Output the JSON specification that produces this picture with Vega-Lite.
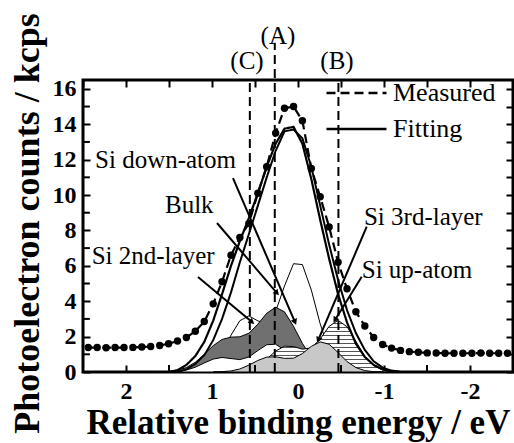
{
 "$schema": "https://vega.github.io/schema/vega-lite/v6.json",
 "width": 430,
 "height": 292,
 "autosize": {"type": "none"},
 "padding": {"left": 83, "top": 80, "right": 1, "bottom": 71},
 "background": "white",
 "config": {
  "view": {"stroke": "black", "strokeWidth": 3},
  "font": "Liberation Serif",
  "axis": {"domain": false, "grid": false, "tickColor": "black", "tickWidth": 2, "tickSize": -7,
   "labelFont": "Liberation Serif", "labelFontWeight": "bold", "labelFontSize": 24, "labelColor": "black",
   "titleFont": "Liberation Serif", "titleFontWeight": "bold", "titleColor": "black", "labelFlush": false, "labelOverlap": false}
 },
 "datasets": {
  "curves": [
   {"series": "Measured", "x": 2.439, "y": 1.38}, {"series": "Measured", "x": 2.335, "y": 1.38}, {"series": "Measured", "x": 2.231, "y": 1.37},
   {"series": "Measured", "x": 2.127, "y": 1.38}, {"series": "Measured", "x": 2.023, "y": 1.38}, {"series": "Measured", "x": 1.92, "y": 1.39},
   {"series": "Measured", "x": 1.816, "y": 1.41}, {"series": "Measured", "x": 1.713, "y": 1.44}, {"series": "Measured", "x": 1.608, "y": 1.5},
   {"series": "Measured", "x": 1.505, "y": 1.6}, {"series": "Measured", "x": 1.401, "y": 1.75}, {"series": "Measured", "x": 1.298, "y": 1.95},
   {"series": "Measured", "x": 1.194, "y": 2.3}, {"series": "Measured", "x": 1.09, "y": 2.85}, {"series": "Measured", "x": 0.986, "y": 3.85},
   {"series": "Measured", "x": 0.883, "y": 5.1}, {"series": "Measured", "x": 0.779, "y": 6.6}, {"series": "Measured", "x": 0.676, "y": 7.6},
   {"series": "Measured", "x": 0.571, "y": 8.4}, {"series": "Measured", "x": 0.467, "y": 10.1}, {"series": "Measured", "x": 0.364, "y": 11.6},
   {"series": "Measured", "x": 0.26, "y": 13.5}, {"series": "Measured", "x": 0.157, "y": 14.9}, {"series": "Measured", "x": 0.052, "y": 15.0},
   {"series": "Measured", "x": -0.051, "y": 14.2}, {"series": "Measured", "x": -0.155, "y": 11.5}, {"series": "Measured", "x": -0.258, "y": 9.9},
   {"series": "Measured", "x": -0.362, "y": 8.2}, {"series": "Measured", "x": -0.466, "y": 6.2}, {"series": "Measured", "x": -0.57, "y": 4.7},
   {"series": "Measured", "x": -0.673, "y": 3.4}, {"series": "Measured", "x": -0.777, "y": 2.6}, {"series": "Measured", "x": -0.88, "y": 1.95},
   {"series": "Measured", "x": -0.985, "y": 1.55}, {"series": "Measured", "x": -1.088, "y": 1.35}, {"series": "Measured", "x": -1.192, "y": 1.22},
   {"series": "Measured", "x": -1.295, "y": 1.15}, {"series": "Measured", "x": -1.399, "y": 1.12}, {"series": "Measured", "x": -1.503, "y": 1.08},
   {"series": "Measured", "x": -1.607, "y": 1.07}, {"series": "Measured", "x": -1.71, "y": 1.06}, {"series": "Measured", "x": -1.814, "y": 1.06},
   {"series": "Measured", "x": -1.917, "y": 1.06}, {"series": "Measured", "x": -2.022, "y": 1.06}, {"series": "Measured", "x": -2.126, "y": 1.07},
   {"series": "Measured", "x": -2.229, "y": 1.06}, {"series": "Measured", "x": -2.333, "y": 1.06}, {"series": "Measured", "x": -2.436, "y": 1.06},
   {"series": "Fitting", "x": 1.505, "y": 0.0}, {"series": "Fitting", "x": 1.401, "y": 0.1}, {"series": "Fitting", "x": 1.298, "y": 0.4},
   {"series": "Fitting", "x": 1.194, "y": 0.9}, {"series": "Fitting", "x": 1.09, "y": 1.7}, {"series": "Fitting", "x": 0.986, "y": 2.9},
   {"series": "Fitting", "x": 0.883, "y": 4.4}, {"series": "Fitting", "x": 0.779, "y": 6.0}, {"series": "Fitting", "x": 0.676, "y": 7.4},
   {"series": "Fitting", "x": 0.571, "y": 8.7}, {"series": "Fitting", "x": 0.467, "y": 10.1}, {"series": "Fitting", "x": 0.364, "y": 11.6},
   {"series": "Fitting", "x": 0.26, "y": 12.9}, {"series": "Fitting", "x": 0.157, "y": 13.75}, {"series": "Fitting", "x": 0.052, "y": 13.85},
   {"series": "Fitting", "x": -0.051, "y": 12.9}, {"series": "Fitting", "x": -0.155, "y": 10.9}, {"series": "Fitting", "x": -0.258, "y": 8.6},
   {"series": "Fitting", "x": -0.362, "y": 6.4}, {"series": "Fitting", "x": -0.466, "y": 4.4}, {"series": "Fitting", "x": -0.57, "y": 2.8},
   {"series": "Fitting", "x": -0.673, "y": 1.6}, {"series": "Fitting", "x": -0.777, "y": 0.85}, {"series": "Fitting", "x": -0.88, "y": 0.4},
   {"series": "Fitting", "x": -0.985, "y": 0.15}, {"series": "Fitting", "x": -1.088, "y": 0.05}, {"series": "Fitting", "x": -1.192, "y": 0.0},
   {"series": "Subtracted", "x": 1.401, "y": 0.0}, {"series": "Subtracted", "x": 1.298, "y": 0.15}, {"series": "Subtracted", "x": 1.194, "y": 0.45},
   {"series": "Subtracted", "x": 1.09, "y": 0.95}, {"series": "Subtracted", "x": 0.986, "y": 1.8}, {"series": "Subtracted", "x": 0.883, "y": 3.0},
   {"series": "Subtracted", "x": 0.779, "y": 4.5}, {"series": "Subtracted", "x": 0.676, "y": 6.2}, {"series": "Subtracted", "x": 0.571, "y": 7.8},
   {"series": "Subtracted", "x": 0.467, "y": 9.4}, {"series": "Subtracted", "x": 0.364, "y": 11.0}, {"series": "Subtracted", "x": 0.26, "y": 12.5},
   {"series": "Subtracted", "x": 0.157, "y": 13.6}, {"series": "Subtracted", "x": 0.052, "y": 13.7}, {"series": "Subtracted", "x": -0.051, "y": 13.2},
   {"series": "Subtracted", "x": -0.155, "y": 11.6}, {"series": "Subtracted", "x": -0.258, "y": 9.4}, {"series": "Subtracted", "x": -0.362, "y": 7.2},
   {"series": "Subtracted", "x": -0.466, "y": 5.2}, {"series": "Subtracted", "x": -0.57, "y": 3.5}, {"series": "Subtracted", "x": -0.673, "y": 2.2},
   {"series": "Subtracted", "x": -0.777, "y": 1.25}, {"series": "Subtracted", "x": -0.88, "y": 0.6}, {"series": "Subtracted", "x": -0.985, "y": 0.25},
   {"series": "Subtracted", "x": -1.088, "y": 0.08}, {"series": "Subtracted", "x": -1.192, "y": 0.0}
  ],
  "comp": [
   {"comp": "Bulk", "x": 1.298, "y": 0.0}, {"comp": "Bulk", "x": 1.194, "y": 0.04}, {"comp": "Bulk", "x": 1.09, "y": 0.15},
   {"comp": "Bulk", "x": 0.986, "y": 0.48}, {"comp": "Bulk", "x": 0.883, "y": 1.14}, {"comp": "Bulk", "x": 0.779, "y": 2.08},
   {"comp": "Bulk", "x": 0.676, "y": 2.9}, {"comp": "Bulk", "x": 0.571, "y": 3.17}, {"comp": "Bulk", "x": 0.467, "y": 2.89},
   {"comp": "Bulk", "x": 0.364, "y": 2.74}, {"comp": "Bulk", "x": 0.26, "y": 3.42}, {"comp": "Bulk", "x": 0.157, "y": 4.86},
   {"comp": "Bulk", "x": 0.052, "y": 6.12}, {"comp": "Bulk", "x": -0.051, "y": 6.07}, {"comp": "Bulk", "x": -0.155, "y": 4.63},
   {"comp": "Bulk", "x": -0.258, "y": 2.72}, {"comp": "Bulk", "x": -0.362, "y": 1.22}, {"comp": "Bulk", "x": -0.466, "y": 0.41},
   {"comp": "Bulk", "x": -0.57, "y": 0.11}, {"comp": "Bulk", "x": -0.673, "y": 0.02}, {"comp": "Bulk", "x": -0.777, "y": 0.0},
   {"comp": "Si down-atom", "x": 1.713, "y": 0.0}, {"comp": "Si down-atom", "x": 1.608, "y": 0.01}, {"comp": "Si down-atom", "x": 1.505, "y": 0.03},
   {"comp": "Si down-atom", "x": 1.401, "y": 0.09}, {"comp": "Si down-atom", "x": 1.298, "y": 0.25}, {"comp": "Si down-atom", "x": 1.194, "y": 0.55},
   {"comp": "Si down-atom", "x": 1.09, "y": 1.0}, {"comp": "Si down-atom", "x": 0.986, "y": 1.49}, {"comp": "Si down-atom", "x": 0.883, "y": 1.84},
   {"comp": "Si down-atom", "x": 0.779, "y": 1.97}, {"comp": "Si down-atom", "x": 0.676, "y": 1.99}, {"comp": "Si down-atom", "x": 0.571, "y": 2.19},
   {"comp": "Si down-atom", "x": 0.467, "y": 2.7}, {"comp": "Si down-atom", "x": 0.364, "y": 3.32}, {"comp": "Si down-atom", "x": 0.26, "y": 3.66},
   {"comp": "Si down-atom", "x": 0.157, "y": 3.4}, {"comp": "Si down-atom", "x": 0.052, "y": 2.58}, {"comp": "Si down-atom", "x": -0.051, "y": 1.62},
   {"comp": "Si down-atom", "x": -0.155, "y": 0.82}, {"comp": "Si down-atom", "x": -0.258, "y": 0.35}, {"comp": "Si down-atom", "x": -0.362, "y": 0.12},
   {"comp": "Si down-atom", "x": -0.466, "y": 0.03}, {"comp": "Si down-atom", "x": -0.57, "y": 0.0},
   {"comp": "Si 2nd-layer", "x": 1.505, "y": 0.0}, {"comp": "Si 2nd-layer", "x": 1.401, "y": 0.04}, {"comp": "Si 2nd-layer", "x": 1.298, "y": 0.11},
   {"comp": "Si 2nd-layer", "x": 1.194, "y": 0.27}, {"comp": "Si 2nd-layer", "x": 1.09, "y": 0.51}, {"comp": "Si 2nd-layer", "x": 0.986, "y": 0.73},
   {"comp": "Si 2nd-layer", "x": 0.883, "y": 0.82}, {"comp": "Si 2nd-layer", "x": 0.779, "y": 0.76}, {"comp": "Si 2nd-layer", "x": 0.676, "y": 0.7},
   {"comp": "Si 2nd-layer", "x": 0.571, "y": 0.85}, {"comp": "Si 2nd-layer", "x": 0.467, "y": 1.21}, {"comp": "Si 2nd-layer", "x": 0.364, "y": 1.54},
   {"comp": "Si 2nd-layer", "x": 0.26, "y": 1.57}, {"comp": "Si 2nd-layer", "x": 0.157, "y": 1.24}, {"comp": "Si 2nd-layer", "x": 0.052, "y": 0.74},
   {"comp": "Si 2nd-layer", "x": -0.051, "y": 0.34}, {"comp": "Si 2nd-layer", "x": -0.155, "y": 0.12}, {"comp": "Si 2nd-layer", "x": -0.258, "y": 0.03},
   {"comp": "Si 2nd-layer", "x": -0.362, "y": 0.0},
   {"comp": "Si 3rd-layer", "x": 0.883, "y": 0.0}, {"comp": "Si 3rd-layer", "x": 0.779, "y": 0.01}, {"comp": "Si 3rd-layer", "x": 0.676, "y": 0.04},
   {"comp": "Si 3rd-layer", "x": 0.571, "y": 0.13}, {"comp": "Si 3rd-layer", "x": 0.467, "y": 0.35}, {"comp": "Si 3rd-layer", "x": 0.364, "y": 0.73},
   {"comp": "Si 3rd-layer", "x": 0.26, "y": 1.18}, {"comp": "Si 3rd-layer", "x": 0.157, "y": 1.46}, {"comp": "Si 3rd-layer", "x": 0.052, "y": 1.44},
   {"comp": "Si 3rd-layer", "x": -0.051, "y": 1.29}, {"comp": "Si 3rd-layer", "x": -0.155, "y": 1.36}, {"comp": "Si 3rd-layer", "x": -0.258, "y": 1.87},
   {"comp": "Si 3rd-layer", "x": -0.362, "y": 2.58}, {"comp": "Si 3rd-layer", "x": -0.466, "y": 2.92}, {"comp": "Si 3rd-layer", "x": -0.57, "y": 2.56},
   {"comp": "Si 3rd-layer", "x": -0.673, "y": 1.73}, {"comp": "Si 3rd-layer", "x": -0.777, "y": 0.89}, {"comp": "Si 3rd-layer", "x": -0.88, "y": 0.36},
   {"comp": "Si 3rd-layer", "x": -0.985, "y": 0.11}, {"comp": "Si 3rd-layer", "x": -1.088, "y": 0.02}, {"comp": "Si 3rd-layer", "x": -1.192, "y": 0.0},
   {"comp": "Si up-atom", "x": 0.986, "y": 0.0}, {"comp": "Si up-atom", "x": 0.883, "y": 0.02}, {"comp": "Si up-atom", "x": 0.779, "y": 0.06},
   {"comp": "Si up-atom", "x": 0.676, "y": 0.17}, {"comp": "Si up-atom", "x": 0.571, "y": 0.39}, {"comp": "Si up-atom", "x": 0.467, "y": 0.65},
   {"comp": "Si up-atom", "x": 0.364, "y": 0.84}, {"comp": "Si up-atom", "x": 0.26, "y": 0.86}, {"comp": "Si up-atom", "x": 0.157, "y": 0.77},
   {"comp": "Si up-atom", "x": 0.052, "y": 0.78}, {"comp": "Si up-atom", "x": -0.051, "y": 1.04}, {"comp": "Si up-atom", "x": -0.155, "y": 1.45},
   {"comp": "Si up-atom", "x": -0.258, "y": 1.7}, {"comp": "Si up-atom", "x": -0.362, "y": 1.57}, {"comp": "Si up-atom", "x": -0.466, "y": 1.1},
   {"comp": "Si up-atom", "x": -0.57, "y": 0.59}, {"comp": "Si up-atom", "x": -0.673, "y": 0.25}, {"comp": "Si up-atom", "x": -0.777, "y": 0.08},
   {"comp": "Si up-atom", "x": -0.88, "y": 0.02}, {"comp": "Si up-atom", "x": -0.985, "y": 0.0}
  ],
  "arrows": [
   {"name": "Si down-atom", "x": 0.756, "y": 10.96, "x2": 0.035, "y2": 2.82},
   {"name": "Bulk", "x": 0.942, "y": 8.42, "x2": 0.244, "y2": 4.46},
   {"name": "Si 2nd-layer", "x": 1.163, "y": 5.37, "x2": 0.535, "y2": 2.82},
   {"name": "Si 3rd-layer", "x": -0.799, "y": 8.21, "x2": -0.236, "y2": 1.81},
   {"name": "Si up-atom", "x": -0.741, "y": 5.38, "x2": -0.43, "y2": 2.94}
  ],
  "notes": [
   {"text": "Si down-atom", "x": 2.36, "y": 12.0},
   {"text": "Bulk", "x": 1.547, "y": 9.43},
   {"text": "Si 2nd-layer", "x": 2.399, "y": 6.55},
   {"text": "Si 3rd-layer", "x": -0.767, "y": 8.76},
   {"text": "Si up-atom", "x": -0.741, "y": 5.76}
  ],
  "vlines": [
   {"label": "(C)", "x": 0.56, "y": 0, "ytop": 16.5},
   {"label": "(A)", "x": 0.27, "y": 0, "ytop": 18.6},
   {"label": "(B)", "x": -0.47, "y": 0, "ytop": 16.5}
  ],
  "vlabels": [
   {"text": "(C)", "x": 0.593, "y": 17.6},
   {"text": "(A)", "x": 0.233, "y": 19.0},
   {"text": "(B)", "x": -0.453, "y": 17.6}
  ],
  "minorY": [{"v": 1}, {"v": 3}, {"v": 5}, {"v": 7}, {"v": 9}, {"v": 11}, {"v": 13}, {"v": 15}],
  "minorX": [{"v": 1.5}, {"v": 0.5}, {"v": -0.5}, {"v": -1.5}]
 },
 "layer": [
  {
   "layer": [
    {
     "data": {"name": "comp"},
     "transform": [{"filter": "datum.comp === 'Bulk'"}],
     "mark": {"type": "area", "fill": "white", "stroke": "black", "strokeWidth": 1},
     "encoding": {
      "x": {"field": "x", "type": "quantitative", "scale": {"domain": [-2.5, 2.5], "reverse": true, "nice": false, "zero": false},
       "axis": {"title": "Relative binding energy / eV", "values": [2, 1, 0, -1, -2], "tickCount": 40,
        "labelExpr": "datum.value < 0 ? '-' + (-datum.value) : '' + datum.value",
        "labelPadding": 14, "titleFontSize": 35, "titleBaseline": "alphabetic", "titleY": 61}},
      "y": {"field": "y", "type": "quantitative", "scale": {"domain": [0, 16.5], "nice": false, "zero": true},
       "axis": {"title": "Photoelectron counts / kcps", "values": [0, 2, 4, 6, 8, 10, 12, 14, 16], "tickCount": 40, "format": "d",
        "labelPadding": 14,
        "titleFontSize": 36, "titleAngle": 270, "titleBaseline": "alphabetic", "titleX": -45, "titleY": 143}}
     }
    },
    {
     "data": {"name": "comp"},
     "transform": [{"filter": "datum.comp === 'Si down-atom'"}],
     "mark": {"type": "area", "fill": "#707070", "stroke": "black", "strokeWidth": 1},
     "encoding": {"x": {"field": "x", "type": "quantitative"}, "y": {"field": "y", "type": "quantitative"}}
    },
    {
     "data": {"name": "comp"},
     "transform": [{"filter": "datum.comp === 'Si 2nd-layer'"}],
     "mark": {"type": "area", "fill": "white", "stroke": "black", "strokeWidth": 1},
     "encoding": {"x": {"field": "x", "type": "quantitative"}, "y": {"field": "y", "type": "quantitative"}}
    },
    {
     "data": {"name": "comp"},
     "transform": [{"filter": "datum.comp === 'Si 3rd-layer'"}],
     "mark": {"type": "area", "stroke": "black", "strokeWidth": 1,
      "fill": {"gradient": "linear", "x1": 0, "y1": 0, "x2": 0, "y2": 1, "stops": [
       {"offset": 0, "color": "white"}, {"offset": 0.054, "color": "white"}, {"offset": 0.054, "color": "#555555"}, {"offset": 0.0769, "color": "#555555"},
       {"offset": 0.0769, "color": "white"}, {"offset": 0.1308, "color": "white"}, {"offset": 0.1308, "color": "#555555"}, {"offset": 0.1538, "color": "#555555"},
       {"offset": 0.1538, "color": "white"}, {"offset": 0.2077, "color": "white"}, {"offset": 0.2077, "color": "#555555"}, {"offset": 0.2308, "color": "#555555"},
       {"offset": 0.2308, "color": "white"}, {"offset": 0.2846, "color": "white"}, {"offset": 0.2846, "color": "#555555"}, {"offset": 0.3077, "color": "#555555"},
       {"offset": 0.3077, "color": "white"}, {"offset": 0.3615, "color": "white"}, {"offset": 0.3615, "color": "#555555"}, {"offset": 0.3846, "color": "#555555"},
       {"offset": 0.3846, "color": "white"}, {"offset": 0.4385, "color": "white"}, {"offset": 0.4385, "color": "#555555"}, {"offset": 0.4615, "color": "#555555"},
       {"offset": 0.4615, "color": "white"}, {"offset": 0.5154, "color": "white"}, {"offset": 0.5154, "color": "#555555"}, {"offset": 0.5385, "color": "#555555"},
       {"offset": 0.5385, "color": "white"}, {"offset": 0.5923, "color": "white"}, {"offset": 0.5923, "color": "#555555"}, {"offset": 0.6154, "color": "#555555"},
       {"offset": 0.6154, "color": "white"}, {"offset": 0.6692, "color": "white"}, {"offset": 0.6692, "color": "#555555"}, {"offset": 0.6923, "color": "#555555"},
       {"offset": 0.6923, "color": "white"}, {"offset": 0.7462, "color": "white"}, {"offset": 0.7462, "color": "#555555"}, {"offset": 0.7692, "color": "#555555"},
       {"offset": 0.7692, "color": "white"}, {"offset": 0.8231, "color": "white"}, {"offset": 0.8231, "color": "#555555"}, {"offset": 0.8462, "color": "#555555"},
       {"offset": 0.8462, "color": "white"}, {"offset": 0.9, "color": "white"}, {"offset": 0.9, "color": "#555555"}, {"offset": 0.9231, "color": "#555555"},
       {"offset": 0.9231, "color": "white"}, {"offset": 0.9769, "color": "white"}, {"offset": 0.9769, "color": "#555555"}, {"offset": 1, "color": "#555555"}
      ]}},
     "encoding": {"x": {"field": "x", "type": "quantitative"}, "y": {"field": "y", "type": "quantitative"}}
    },
    {
     "data": {"name": "comp"},
     "transform": [{"filter": "datum.comp === 'Si up-atom'"}],
     "mark": {"type": "area", "fill": "#c8c8c8", "stroke": "black", "strokeWidth": 1},
     "encoding": {"x": {"field": "x", "type": "quantitative"}, "y": {"field": "y", "type": "quantitative"}}
    },
    {
     "data": {"name": "curves"},
     "transform": [{"filter": "datum.series === 'Subtracted'"}],
     "mark": {"type": "line", "color": "black", "strokeWidth": 2},
     "encoding": {"x": {"field": "x", "type": "quantitative"}, "y": {"field": "y", "type": "quantitative"}}
    },
    {
     "data": {"name": "curves"},
     "transform": [{"filter": "datum.series !== 'Subtracted'"}],
     "mark": {"type": "line", "color": "black", "strokeWidth": 2.2},
     "encoding": {
      "x": {"field": "x", "type": "quantitative"},
      "y": {"field": "y", "type": "quantitative"},
      "strokeDash": {"field": "series", "type": "nominal",
       "scale": {"domain": ["Measured", "Fitting"], "range": [[9, 5], [1, 0]]},
       "legend": {"orient": "none", "legendX": 242, "legendY": -5, "title": null, "symbolType": "stroke",
        "symbolSize": 3600, "symbolStrokeWidth": 2.5, "symbolStrokeColor": "black", "labelFont": "Liberation Serif",
        "labelFontSize": 26, "labelColor": "black", "labelOffset": 5, "rowPadding": 0, "clipHeight": 36, "padding": 0}}
     }
    },
    {
     "data": {"name": "curves"},
     "transform": [{"filter": "datum.series === 'Measured'"}],
     "mark": {"type": "circle", "color": "black", "size": 55, "opacity": 1},
     "encoding": {"x": {"field": "x", "type": "quantitative"}, "y": {"field": "y", "type": "quantitative"}}
    },
    {
     "data": {"name": "arrows"},
     "mark": {"type": "rule", "color": "black", "strokeWidth": 2},
     "encoding": {"x": {"field": "x", "type": "quantitative"}, "y": {"field": "y", "type": "quantitative"},
      "x2": {"field": "x2"}, "y2": {"field": "y2"}}
    },
    {
     "data": {"name": "arrows"},
     "mark": {"type": "point", "shape": "triangle-up", "filled": true, "color": "black", "size": 45, "opacity": 1,
      "angle": {"expr": "atan2(scale('y', datum.y2) - scale('y', datum.y), scale('x', datum.x2) - scale('x', datum.x)) * 180 / PI + 90"}},
     "encoding": {"x": {"field": "x2", "type": "quantitative"}, "y": {"field": "y2", "type": "quantitative"}}
    },
    {
     "data": {"name": "notes"},
     "mark": {"type": "text", "align": "left", "baseline": "middle", "font": "Liberation Serif", "fontSize": 25, "color": "black"},
     "encoding": {"x": {"field": "x", "type": "quantitative"}, "y": {"field": "y", "type": "quantitative"}, "text": {"field": "text"}}
    },
    {
     "data": {"name": "minorY"},
     "mark": {"type": "rule", "color": "black", "strokeWidth": 2},
     "encoding": {"y": {"field": "v", "type": "quantitative"}, "x": {"datum": 2.5}, "x2": {"datum": 2.42}}
    },
    {
     "data": {"name": "minorX"},
     "mark": {"type": "rule", "color": "black", "strokeWidth": 2},
     "encoding": {"x": {"field": "v", "type": "quantitative"}, "y": {"datum": 0}, "y2": {"datum": 0.4}}
    }
   ]
  },
  {
   "layer": [
    {
     "data": {"name": "vlines"},
     "mark": {"type": "rule", "color": "black", "strokeWidth": 2, "strokeDash": [9, 5]},
     "encoding": {
      "x": {"field": "x", "type": "quantitative",
       "axis": {"orient": "top", "title": null, "labels": false, "tickCount": 40, "values": [2.5, 2, 1.5, 1, 0.5, 0, -0.5, -1, -1.5, -2, -2.5]}},
      "y": {"field": "y", "type": "quantitative",
       "axis": {"orient": "right", "title": null, "labels": false, "tickCount": 40, "values": [0,1,2,3,4,5,6,7,8,9,10,11,12,13,14,15,16]}},
      "y2": {"field": "ytop"}
     }
    },
    {
     "data": {"name": "vlabels"},
     "mark": {"type": "text", "align": "center", "baseline": "middle", "font": "Liberation Serif", "fontSize": 25, "color": "black"},
     "encoding": {"x": {"field": "x", "type": "quantitative"}, "y": {"field": "y", "type": "quantitative"}, "text": {"field": "text"}}
    }
   ]
  }
 ],
 "resolve": {"axis": {"x": "independent", "y": "independent"}}
}
